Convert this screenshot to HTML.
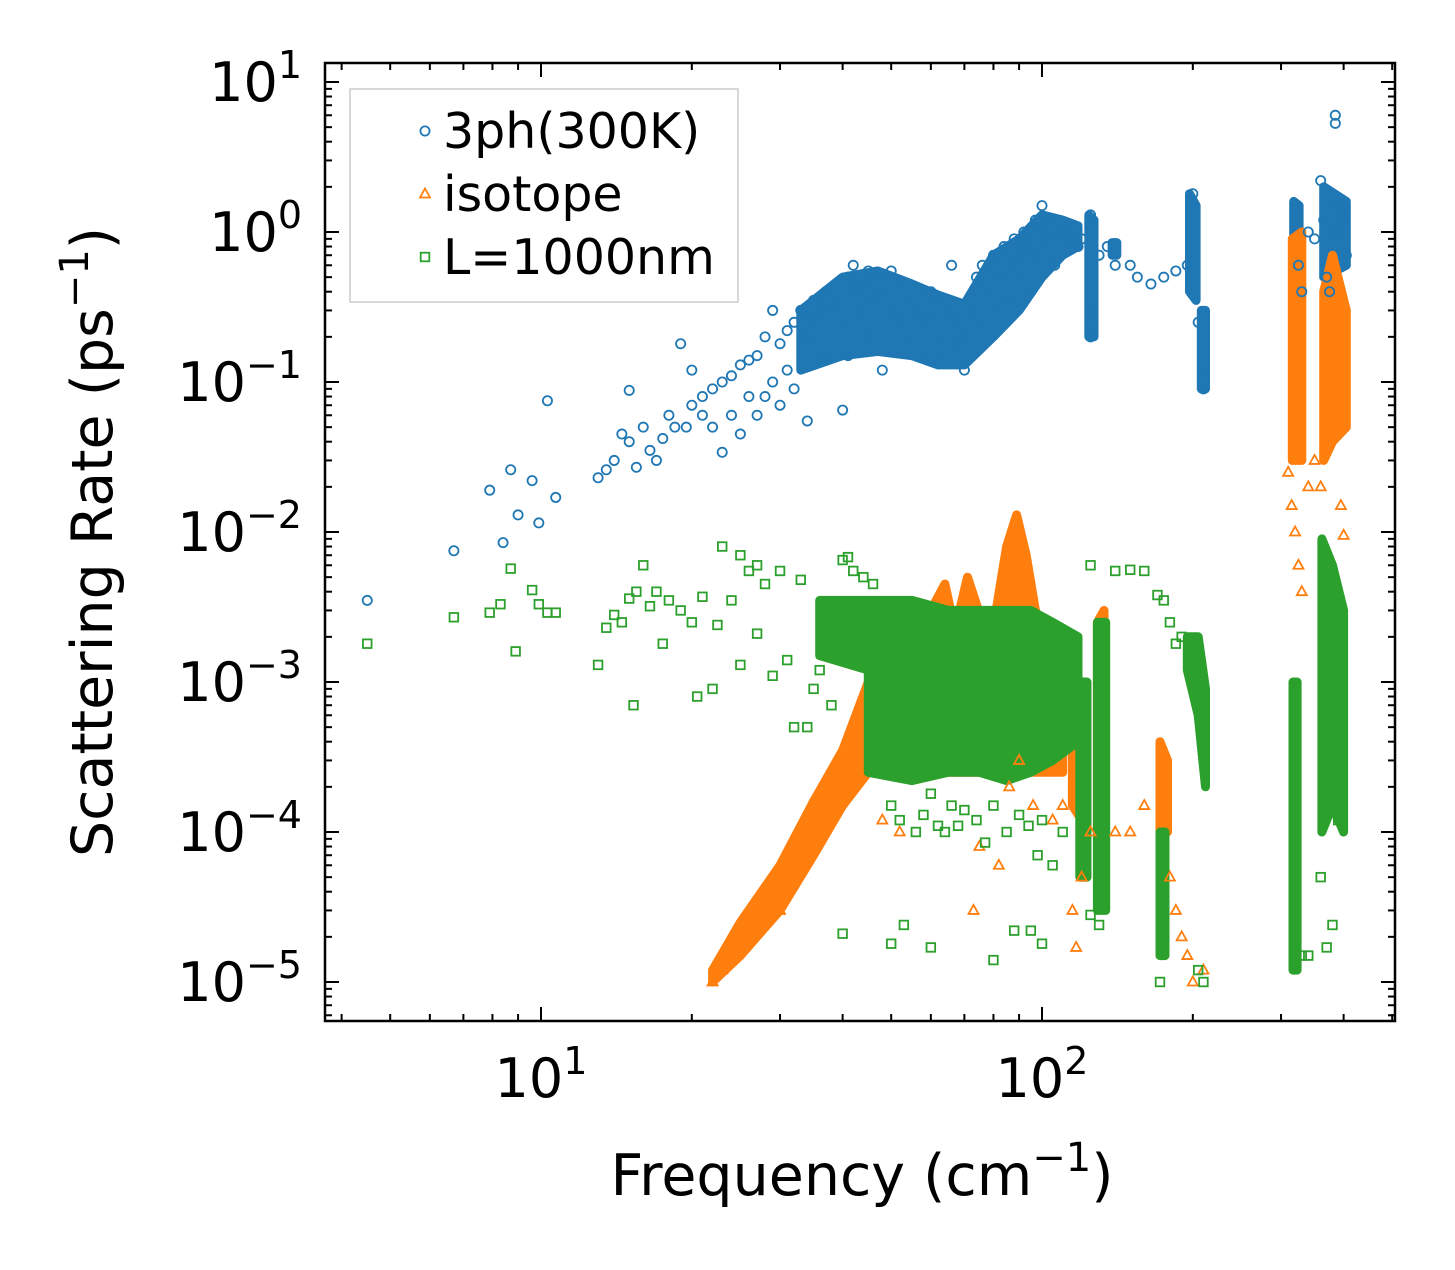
<!DOCTYPE html>
<html><head><meta charset="utf-8">
<style>
html,body{margin:0;padding:0;background:#fff;}
svg{display:block;font-family:"DejaVu Sans","Liberation Sans",sans-serif;}
</style></head>
<body>
<svg id="chart" width="1455" height="1270" viewBox="0 0 1455 1270" xmlns="http://www.w3.org/2000/svg">
<rect width="1455" height="1270" fill="#fff"/>
<g id="bands"></g>
<g id="marks"></g>
<g id="axes"></g>
</svg>
<script>
// ---- data ----
const xTickValues = [10, 100];
const xTickLabels = ["10", "10"];
const xTickExps = ["1", "2"];
const yTickValues = [10, 1, 0.1, 0.01, 0.001, 0.0001, 0.00001];
const yTickExps = ["1", "0", "\u22121", "\u22122", "\u22123", "\u22124", "\u22125"];
const seriesNames = ["3ph(300K)", "isotope", "L=1000nm"];

// dense clouds: each band = list of [freq, low, high]
const bandsPh = [
 [[33,0.12,0.3],[40,0.15,0.5],[47,0.16,0.55],[55,0.15,0.45],[62,0.13,0.38],[70,0.13,0.33],[80,0.2,0.7],[90,0.3,0.9],[100,0.5,1.3],[110,0.7,1.2],[118,0.8,1.1]],
 [[124,0.2,1.3],[127,0.2,1.2]],
 [[138,0.7,0.85],[141,0.7,0.85]],
 [[197,0.4,1.8],[203,0.35,1.5]],
 [[208,0.09,0.3],[212,0.09,0.3]],
 [[318,0.3,1.6],[326,0.3,1.5]],
 [[365,0.5,2.0],[405,0.6,1.6]]
];
const bandsIso = [
 [[22,1e-5,1.2e-5],[25,1.5e-5,2.5e-5],[30,3e-5,6e-5],[35,7e-5,1.6e-4],[40,1.5e-4,3.5e-4],[45,2.5e-4,1e-3],[50,2.5e-4,2e-3],[55,2.5e-4,2.6e-3],[60,2.5e-4,3e-3],[64,2.5e-4,4.5e-3],[67,2.5e-4,2.2e-3],[71,2.5e-4,5e-3],[76,2.5e-4,2.5e-3],[81,2.5e-4,3e-3],[85,2.5e-4,8e-3],[89,2.5e-4,1.3e-2],[93,2.5e-4,7e-3],[97,2.5e-4,3e-3],[103,2.5e-4,1.6e-3],[110,2.5e-4,8e-4]],
 [[115,1.5e-4,4e-4],[120,1.2e-4,6e-4]],
 [[129,1e-4,2.5e-3],[133,1e-4,3e-3]],
 [[172,1e-4,4e-4],[178,1e-4,3e-4]],
 [[316,0.03,0.9],[330,0.03,1.0]],
 [[365,0.03,0.4],[380,0.04,0.7],[405,0.05,0.3]]
];
const bandsL = [
 [[45,2.5e-4,3.5e-3],[55,2.2e-4,3.5e-3],[65,2.5e-4,3e-3],[75,2.5e-4,3e-3],[85,2.2e-4,3e-3],[95,2.5e-4,3e-3],[105,3e-4,2.5e-3],[118,4e-4,2e-3]],
 [[36,1.5e-3,3.5e-3],[45,1.2e-3,3.5e-3]],
 [[119,5e-5,1e-3],[123,5e-5,1e-3]],
 [[129,3e-5,2.5e-3],[134,3e-5,2.5e-3]],
 [[172,1.5e-5,1e-4],[176,1.5e-5,1e-4]],
 [[195,1.2e-3,2e-3],[205,6e-4,2e-3],[212,2e-4,9e-4]],
 [[317,1.2e-5,1e-3],[323,1.2e-5,1e-3]],
 [[362,1e-4,9e-3],[380,1.5e-4,6e-3],[400,1e-4,3e-3]]
];

const ptsPh = [[4.5,0.0035],[6.7,0.0075],[7.9,0.019],[8.4,0.0085],[8.7,0.026],[9.0,0.013],[9.6,0.022],[9.9,0.0115],[10.3,0.075],[10.7,0.017],[13,0.023],[13.5,0.026],[14,0.03],[14.5,0.045],[15,0.088],[15,0.04],[15.5,0.027],[16,0.05],[16.5,0.035],[17,0.03],[17.5,0.042],[18,0.06],[18.5,0.05],[19,0.18],[19.5,0.05],[20,0.12],[20,0.07],[21,0.08],[21,0.06],[22,0.09],[22,0.05],[23,0.1],[23,0.034],[24,0.11],[24,0.06],[25,0.13],[25,0.045],[26,0.14],[26,0.08],[27,0.15],[27,0.06],[28,0.2],[28,0.08],[29,0.3],[29,0.1],[30,0.18],[30,0.07],[31,0.22],[31,0.12],[32,0.25],[32,0.09],[33,0.3],[34,0.2],[34,0.055],[35,0.35],[35,0.25],[36,0.28],[37,0.4],[37,0.15],[38,0.3],[39,0.35],[40,0.25],[40,0.065],[41,0.5],[41,0.15],[42,0.6],[42,0.4],[43,0.3],[44,0.45],[45,0.55],[45,0.2],[46,0.35],[47,0.5],[48,0.4],[48,0.12],[50,0.3],[50,0.55],[52,0.25],[52,0.45],[54,0.35],[55,0.2],[56,0.3],[58,0.25],[58,0.15],[60,0.28],[60,0.4],[62,0.2],[62,0.35],[64,0.15],[65,0.3],[66,0.6],[67,0.25],[68,0.18],[70,0.2],[70,0.12],[72,0.3],[74,0.5],[75,0.25],[76,0.6],[78,0.4],[80,0.3],[80,0.7],[82,0.5],[84,0.8],[85,0.35],[86,0.6],[88,0.9],[90,0.5],[90,0.7],[92,1.0],[94,0.8],[95,0.4],[97,1.2],[98,0.7],[100,1.5],[100,1.0],[102,0.9],[104,1.2],[106,0.6],[108,1.0],[110,1.1],[112,0.9],[115,1.0],[118,0.8],[120,0.9],[125,1.3],[125,0.3],[125,0.2],[130,0.7],[135,0.8],[140,0.6],[150,0.6],[155,0.5],[165,0.45],[175,0.5],[185,0.55],[195,0.6],[200,1.8],[205,0.25],[210,0.12],[210,0.09],[320,1.5],[325,0.6],[330,0.4],[340,1.0],[350,0.9],[360,2.2],[365,1.2],[370,0.5],[375,0.4],[385,6.0],[385,5.3],[390,1.0],[395,1.5],[400,1.2],[405,0.7]];
const ptsIso = [[22,1e-5],[23,1.2e-5],[24,1.5e-5],[26,2e-5],[28,2.5e-5],[30,3e-5],[33,6e-5],[36,9e-5],[38,1.6e-4],[42,3e-4],[48,1.2e-4],[52,1e-4],[73,3e-5],[75,8e-5],[82,6e-5],[86,2e-4],[90,3e-4],[96,1.5e-4],[105,1.2e-4],[110,1.5e-4],[115,3e-5],[117,1.7e-5],[120,5e-5],[125,1e-4],[140,1e-4],[150,1e-4],[160,1.5e-4],[180,5e-5],[185,3e-5],[190,2e-5],[195,1.5e-5],[200,1e-5],[210,1.2e-5],[310,0.025],[315,0.015],[320,0.01],[325,0.006],[330,0.004],[340,0.02],[350,0.03],[360,0.02],[370,0.08],[380,0.09],[390,0.06],[395,0.015],[400,0.0095]];
const ptsL = [[4.5,0.0018],[6.7,0.0027],[7.9,0.0029],[8.3,0.0033],[8.7,0.0057],[8.9,0.0016],[9.6,0.0041],[9.9,0.0033],[10.3,0.0029],[10.7,0.0029],[13,0.0013],[13.5,0.0023],[14,0.0028],[14.5,0.0025],[15,0.0036],[15.3,0.0007],[15.5,0.004],[16,0.006],[16.5,0.0032],[17,0.004],[17.5,0.0018],[18,0.0035],[19,0.003],[20,0.0025],[20.5,0.0008],[21,0.0037],[22,0.0009],[22.5,0.0024],[23,0.008],[24,0.0035],[25,0.007],[25,0.0013],[26,0.0055],[27,0.006],[27,0.0021],[28,0.0045],[29,0.0011],[30,0.0055],[31,0.0014],[32,0.0005],[33,0.0048],[34,0.0005],[35,0.0009],[36,0.0012],[38,0.0007],[40,0.0065],[41,0.0068],[42,0.0055],[44,0.005],[46,0.0045],[48,0.00035],[50,0.00015],[52,0.00012],[54,0.00025],[56,0.0001],[58,0.00013],[60,0.00018],[62,0.00011],[64,0.0001],[66,0.00015],[68,0.00011],[70,0.00014],[74,0.00012],[77,8.5e-5],[80,0.00015],[85,0.0001],[90,0.00013],[94,0.00011],[98,7e-5],[100,0.00012],[105,6e-5],[110,0.0001],[40,2.1e-5],[50,1.8e-5],[53,2.4e-5],[60,1.7e-5],[80,1.4e-5],[88,2.2e-5],[95,2.2e-5],[100,1.8e-5],[125,2.8e-5],[130,2.4e-5],[125,0.006],[140,0.0055],[150,0.0056],[160,0.0055],[170,0.0038],[175,0.0035],[180,0.0025],[185,0.0018],[190,0.002],[172,1e-5],[205,1.2e-5],[210,1e-5],[330,1.5e-5],[340,1.5e-5],[370,1.7e-5],[380,2.4e-5],[360,5e-5],[390,1.2e-4],[395,1.5e-4]];

// ---- scales ----
const L=325,R=1395,T=63,B=1021;
const X = f => 541 + 501*(Math.log10(f)-1);
const Y = v => 232 - 150*Math.log10(v);
const NS="http://www.w3.org/2000/svg";
function mk(tag, attrs, parent){const e=document.createElementNS(NS,tag);for(const k in attrs)e.setAttribute(k,attrs[k]);parent.appendChild(e);return e;}
const colors=["#1f77b4","#ff7f0e","#2ca02c"];
const bandG=document.getElementById('bands');
const markG=document.getElementById('marks');
const axG=document.getElementById('axes');

function drawBands(bands, color, name){
  bands.forEach((b,i)=>{
    let d="";
    b.forEach((p,j)=>{d+=(j?"L":"M")+X(p[0]).toFixed(1)+","+Y(p[2]).toFixed(1);});
    for(let j=b.length-1;j>=0;j--){d+="L"+X(b[j][0]).toFixed(1)+","+Y(b[j][1]).toFixed(1);}
    d+="Z";
    const e=mk('path',{d:d,fill:color,stroke:color,'stroke-width':9,'stroke-linejoin':'round'},bandG);
    
    
  });
}
function marker(kind,x,y,color,g){
  let e;
  if(kind===0) e=mk('circle',{cx:x,cy:y,r:4.6,fill:'none',stroke:color,'stroke-width':1.8},g);
  else if(kind===1) e=mk('path',{d:`M${x},${y-5.5}L${x+5},${y+3.5}L${x-5},${y+3.5}Z`,fill:'none',stroke:color,'stroke-width':1.8},g);
  else e=mk('rect',{x:x-4.3,y:y-4.3,width:8.6,height:8.6,fill:'none',stroke:color,'stroke-width':1.8},g);
  return e;
}
drawBands(bandsPh, colors[0], 'ph3');
drawBands(bandsIso, colors[1], 'isotope');
drawBands(bandsL, colors[2], 'boundary');
[[ptsPh,0],[ptsIso,1],[ptsL,2]].forEach(([pts,k])=>{
  pts.forEach(p=>{
    const e=marker(k,X(p[0]),Y(p[1]),colors[k],markG);
    
    
  });
});

// ---- axes ----
const frame=mk('rect',{x:L,y:T,width:R-L,height:B-T,fill:'none',stroke:'#000','stroke-width':2.5},axG);


for(let dec=0;dec<=2;dec++){
  for(let m=1;m<10;m++){
    const f=m*Math.pow(10,dec);
    const x=X(f); if(x<L||x>R) continue;
    const len=m===1?14:7;
    mk('line',{x1:x,y1:B,x2:x,y2:B-len,stroke:'#000','stroke-width':2},axG);
    mk('line',{x1:x,y1:T,x2:x,y2:T+len,stroke:'#000','stroke-width':2},axG);
  }
}
for(let dec=-6;dec<=1;dec++){
  for(let m=1;m<10;m++){
    const v=m*Math.pow(10,dec);
    const y=Y(v); if(y<T||y>B) continue;
    const len=m===1?14:7;
    mk('line',{x1:L,y1:y,x2:L+len,y2:y,stroke:'#000','stroke-width':2},axG);
    mk('line',{x1:R,y1:y,x2:R-len,y2:y,stroke:'#000','stroke-width':2},axG);
  }
}
xTickValues.forEach((v,i)=>{
  const t=mk('text',{x:X(v),y:1097,'font-size':54,'text-anchor':'middle',fill:'#000'},axG);
  
  
  t.textContent=xTickLabels[i];
  const s=mk('tspan',{dy:-23,'font-size':38},t); s.textContent=xTickExps[i];
});
yTickValues.forEach((v,i)=>{
  const t=mk('text',{x:302,y:Y(v)+19,'font-size':54,'text-anchor':'end',fill:'#000'},axG);
  
  
  t.textContent="10";
  const s=mk('tspan',{dy:-23,'font-size':38},t); s.textContent=yTickExps[i];
});
const xl=mk('text',{x:862,y:1195,'font-size':57,'text-anchor':'middle',fill:'#000'},axG);


xl.innerHTML='Frequency (cm<tspan dy="-24" font-size="40">\u22121</tspan><tspan dy="24">)</tspan>';
const yl=mk('text',{x:0,y:0,'font-size':57,'text-anchor':'middle',fill:'#000',transform:'translate(112,542) rotate(-90)'},axG);


yl.innerHTML='Scattering Rate (ps<tspan dy="-24" font-size="40">\u22121</tspan><tspan dy="24">)</tspan>';

// legend
const lg=mk('g',{},axG);


mk('rect',{x:350,y:89,width:388,height:213,fill:'#fff','fill-opacity':0.8,stroke:'#ccc','stroke-width':1.5},lg);
const ly=[131,194,257];
seriesNames.forEach((n,i)=>{
  const m=marker(i,425,ly[i],colors[i],lg);
  
  
  const t=mk('text',{x:443,y:ly[i]+17,'font-size':49,fill:'#000'},lg);
  
  
  t.textContent=n;
});
</script>
</body></html>
